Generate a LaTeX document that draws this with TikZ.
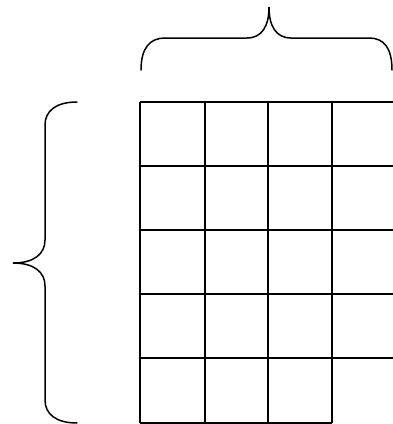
\documentclass[tikz,border=0pt]{standalone}
\usetikzlibrary{positioning}
\tikzset{
  gridline/.style={draw=black, line width=1.5pt},
  brace/.style={draw=black, line width=1.5pt, line cap=round},
}
\begin{document}
\begin{tikzpicture}[x=1pt, y=-1pt]
  \useasboundingbox (0,0) rectangle (393,424);
  % grid
  \foreach \y in {102,166,230,294,358}
    \draw[gridline] (140,\y) -- (394,\y);
  \draw[gridline] (140,423) -- (332,423);
  \foreach \x in {140,205,268,332}
    \draw[gridline] (\x,102) -- (\x,423);
  % top brace
  \draw[brace] (141,70) .. controls (141,48) and (150,38) .. (165,38)
    -- (247,38) .. controls (262,38) and (269,26) .. (269,7)
    .. controls (269,26) and (276,38) .. (291,38)
    -- (369,38) .. controls (384,38) and (392,48) .. (392,70);
  % left brace
  \draw[brace] (77,102) .. controls (56,102) and (45,111) .. (45,125)
    -- (45,240) .. controls (45,254) and (34,263) .. (13,263)
    .. controls (34,263) and (45,272) .. (45,286)
    -- (45,400) .. controls (45,414) and (56,423) .. (77,423);
\end{tikzpicture}
\end{document}
